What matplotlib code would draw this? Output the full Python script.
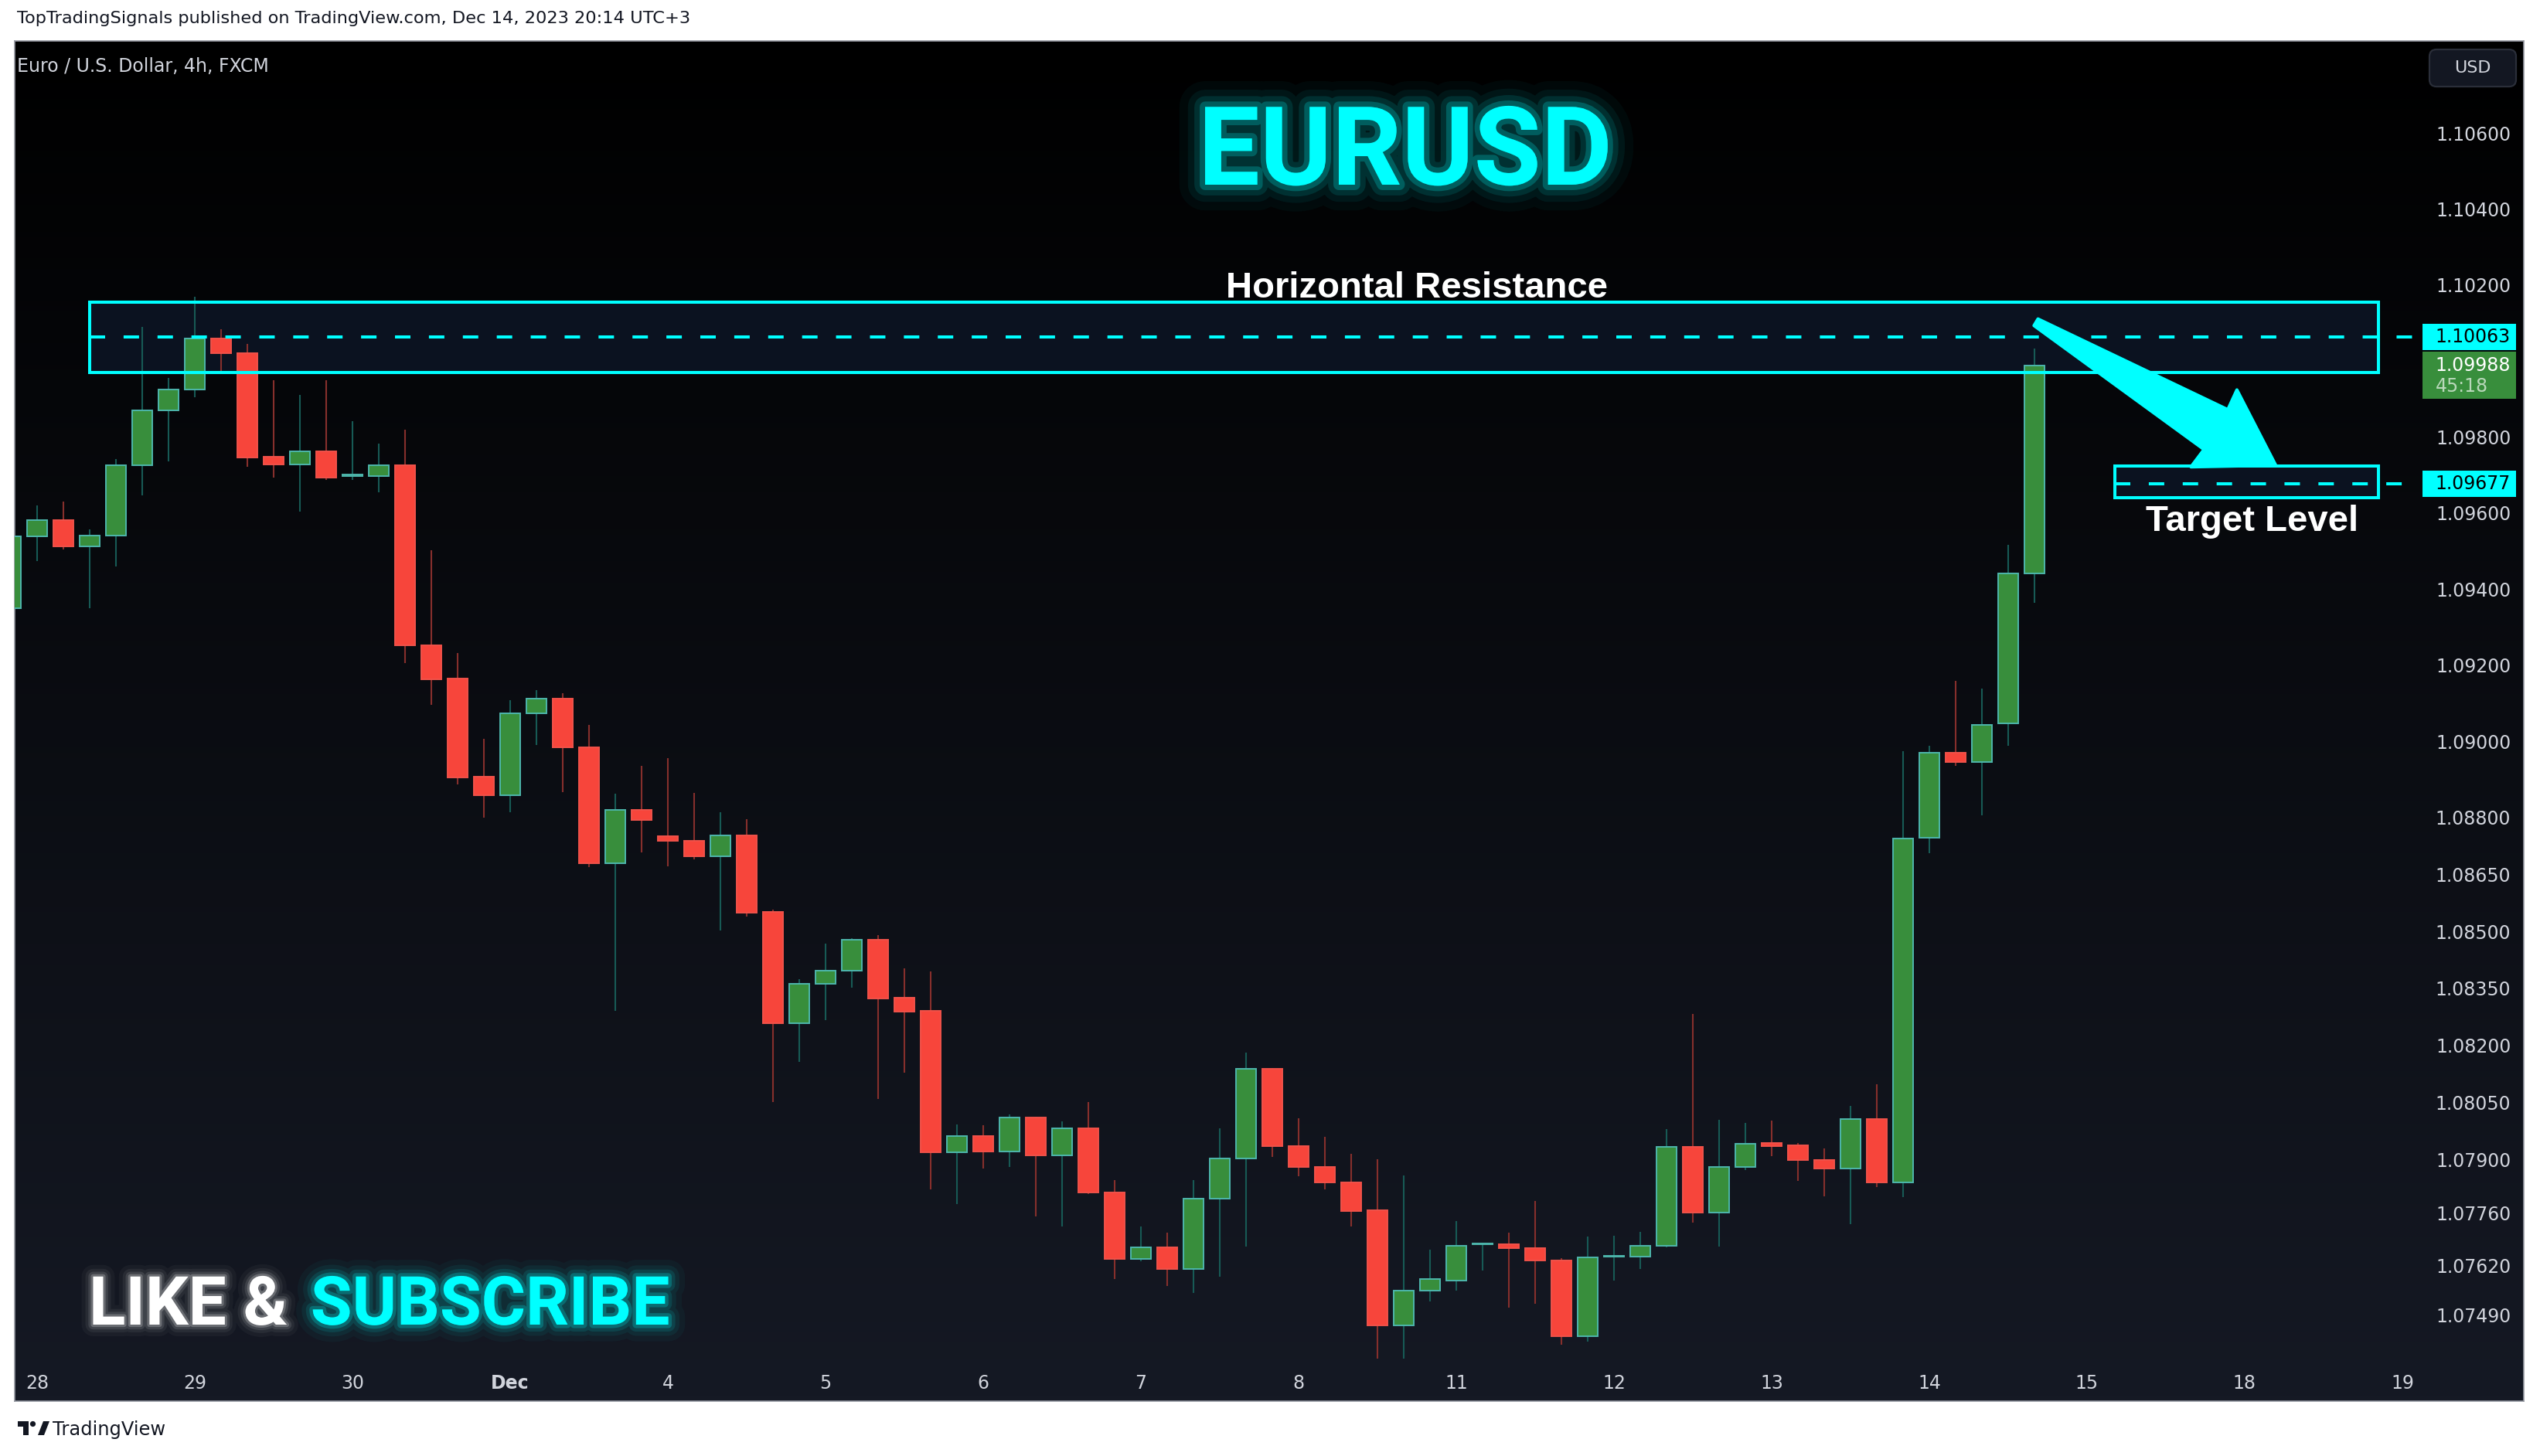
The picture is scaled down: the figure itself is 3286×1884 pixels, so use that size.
import matplotlib
matplotlib.use("Agg")
import matplotlib.pyplot as plt
import numpy as np
from matplotlib import font_manager
from matplotlib import patheffects as pe
from matplotlib.colors import LinearSegmentedColormap
from matplotlib.patches import Rectangle, Polygon, FancyBboxPatch, Circle
from matplotlib.transforms import blended_transform_factory, IdentityTransform

plt.rcParams['lines.scale_dashes'] = False

# EURUSD 4h (FXCM), one candle per 4 hours, first one is Nov 27 20:00 and is cut by the edge
opens = [1.09350, 1.09538, 1.09581, 1.09513, 1.09540, 1.09725, 1.09871, 1.09926, 1.10060, 1.10020,
         1.09748, 1.09728, 1.09762, 1.09698, 1.09698, 1.09725, 1.09253, 1.09164, 1.08906, 1.08857,
         1.09074, 1.09111, 1.08983, 1.08679, 1.08820, 1.08751, 1.08737, 1.08698, 1.08753, 1.08550,
         1.08259, 1.08362, 1.08397, 1.08478, 1.08325, 1.08290, 1.07918, 1.07961, 1.07921, 1.08010,
         1.07911, 1.07982, 1.07813, 1.07638, 1.07668, 1.07611, 1.07797, 1.07902, 1.08138, 1.07935,
         1.07880, 1.07840, 1.07766, 1.07463, 1.07555, 1.07582, 1.07677, 1.07677, 1.07667, 1.07633,
         1.07435, 1.07644, 1.07645, 1.07672, 1.07932, 1.07761, 1.07881, 1.07942, 1.07936, 1.07899,
         1.07875, 1.08006, 1.07840, 1.08746, 1.08970, 1.08946, 1.09047, 1.09442]
highs = [1.09560, 1.09621, 1.09631, 1.09557, 1.09742, 1.10089, 1.09955, 1.10170, 1.10083, 1.10045,
         1.09949, 1.09911, 1.09949, 1.09841, 1.09782, 1.09819, 1.09502, 1.09232, 1.09006, 1.09108,
         1.09134, 1.09126, 1.09043, 1.08862, 1.08935, 1.08955, 1.08863, 1.08814, 1.08794, 1.08556,
         1.08373, 1.08467, 1.08481, 1.08490, 1.08402, 1.08394, 1.07991, 1.07989, 1.08019, 1.08012,
         1.07999, 1.08050, 1.07845, 1.07723, 1.07708, 1.07846, 1.07981, 1.08181, 1.08140, 1.08009,
         1.07959, 1.07914, 1.07900, 1.07858, 1.07663, 1.07738, 1.07681, 1.07708, 1.07790, 1.07640,
         1.07697, 1.07699, 1.07709, 1.07979, 1.08282, 1.08005, 1.07995, 1.08002, 1.07942, 1.07928,
         1.08040, 1.08097, 1.08974, 1.08987, 1.09158, 1.09138, 1.09516, 1.10033]
lows = [1.09309, 1.09474, 1.09505, 1.09350, 1.09459, 1.09647, 1.09736, 1.09904, 1.09968, 1.09721,
        1.09694, 1.09604, 1.09688, 1.09688, 1.09655, 1.09206, 1.09096, 1.08887, 1.08798, 1.08814,
        1.08989, 1.08866, 1.08669, 1.08290, 1.08708, 1.08671, 1.08690, 1.08502, 1.08539, 1.08050,
        1.08156, 1.08267, 1.08352, 1.08058, 1.08128, 1.07821, 1.07782, 1.07876, 1.07880, 1.07749,
        1.07723, 1.07809, 1.07585, 1.07631, 1.07566, 1.07548, 1.07591, 1.07670, 1.07906, 1.07856,
        1.07822, 1.07723, 1.07375, 1.07375, 1.07526, 1.07555, 1.07607, 1.07510, 1.07521, 1.07412,
        1.07421, 1.07581, 1.07612, 1.07668, 1.07734, 1.07671, 1.07871, 1.07909, 1.07844, 1.07802,
        1.07730, 1.07828, 1.07801, 1.08706, 1.08936, 1.08804, 1.08987, 1.09364]
closes = [1.09538, 1.09581, 1.09513, 1.09540, 1.09725, 1.09871, 1.09926, 1.10060, 1.10020, 1.09746,
          1.09728, 1.09762, 1.09694, 1.09702, 1.09725, 1.09253, 1.09163, 1.08905, 1.08857, 1.09074,
          1.09111, 1.08983, 1.08679, 1.08820, 1.08793, 1.08737, 1.08698, 1.08753, 1.08549, 1.08259,
          1.08362, 1.08397, 1.08478, 1.08323, 1.08289, 1.07918, 1.07961, 1.07921, 1.08010, 1.07911,
          1.07982, 1.07813, 1.07638, 1.07668, 1.07611, 1.07797, 1.07903, 1.08138, 1.07935, 1.07880,
          1.07839, 1.07765, 1.07463, 1.07555, 1.07585, 1.07673, 1.07679, 1.07667, 1.07633, 1.07435,
          1.07643, 1.07647, 1.07672, 1.07932, 1.07761, 1.07881, 1.07941, 1.07935, 1.07899, 1.07875,
          1.08006, 1.07840, 1.08745, 1.08970, 1.08946, 1.09043, 1.09442, 1.09988]

day_labels = ['28', '29', '30', 'Dec', '4', '5', '6', '7', '8', '11', '12', '13', '14', '15', '18', '19']
price_ticks = [1.10600, 1.10400, 1.10200, 1.09800, 1.09600, 1.09400, 1.09200, 1.09000, 1.08800,
               1.08650, 1.08500, 1.08350, 1.08200, 1.08050, 1.07900, 1.07760, 1.07620, 1.07490]

resistance_zone = (1.09970, 1.10155)
resistance_level = 1.10063
target_zone = (1.09640, 1.09723)
target_level = 1.09677
last_price = 1.09988
countdown = '45:18'

# drawing anchors (candle index units)
res_start, target_start, zone_end, scale_edge = 2, 79.07, 89.1, 90.55
res_label_x = 52.5
arrow_tail = (76.06, 1.10102)
arrow_tip = (85.18, 1.09726)

CYAN = '#00ffff'
UP, UP_EDGE, UP_WICK = '#388e3c', '#4db6ac', '#175a55'
DN, DN_EDGE, DN_WICK = '#f7453b', '#f0524a', '#862f2c'

names = {f.name for f in font_manager.fontManager.ttflist}
narrow = 'Liberation Sans Narrow' if 'Liberation Sans Narrow' in names else 'Roboto'
sans_bold = 'Liberation Sans' if 'Liberation Sans' in names else 'DejaVu Sans'

W, H = 3286, 1884
fig = plt.figure(figsize=(W / 200, H / 200), dpi=200)
fig.patch.set_facecolor('white')
ax = fig.add_axes([19 / W, (H - 1813) / H, 3246 / W, 1760 / H])

bg = LinearSegmentedColormap.from_list('bg', ['#000000', '#151924'])
ax.imshow(np.linspace(0, 1, 256).reshape(-1, 1), cmap=bg, extent=[0, 1, 0, 1],
          transform=ax.transAxes, aspect='auto', origin='upper', zorder=0)

o = np.array(opens)
hi = np.array(highs)
lo = np.array(lows)
c = np.array(closes)
x = np.arange(len(o)) - 1
up = c >= o
body_lo = np.minimum(o, c)
body_h = np.maximum(np.abs(c - o), 0.00002)

# zones (fill under the candles)
ax.add_patch(Rectangle((res_start, resistance_zone[0]), zone_end - res_start,
                       resistance_zone[1] - resistance_zone[0], facecolor='#0b1220', edgecolor='none', zorder=1))
ax.add_patch(Rectangle((target_start, target_zone[0]), zone_end - target_start,
                       target_zone[1] - target_zone[0], facecolor='#0b1220', edgecolor='none', zorder=1))

ax.vlines(x[up], lo[up], hi[up], color=UP_WICK, lw=0.75, zorder=3)
ax.vlines(x[~up], lo[~up], hi[~up], color=DN_WICK, lw=0.75, zorder=3)
ax.bar(x[up], body_h[up], bottom=body_lo[up], width=0.76, color=UP, edgecolor=UP_EDGE, linewidth=0.7, zorder=4)
ax.bar(x[~up], body_h[~up], bottom=body_lo[~up], width=0.76, color=DN, edgecolor=DN_EDGE, linewidth=0.7, zorder=4)

# zone borders and levels
for start, (z0, z1) in [(res_start, resistance_zone), (target_start, target_zone)]:
    ax.add_patch(Rectangle((start, z0), zone_end - start, z1 - z0, facecolor='none',
                           edgecolor=CYAN, lw=1.45, zorder=6))
for start, lvl in [(res_start, resistance_level), (target_start, target_level)]:
    ax.plot([start, scale_edge], [lvl, lvl], color=CYAN, lw=1.45, ls=(0, (7.2, 8.6)), zorder=6)

ax.set_xlim(-0.853, 94.62)
ax.set_ylim(1.07264, 1.10842)

# axes and ticks
ax.set_xticks(np.arange(len(day_labels)) * 6, day_labels)
ax.tick_params(axis='x', length=0, pad=-12.5, labelsize=8.5, labelcolor='#d1d4dc')
ax.get_xticklabels()[3].set_fontweight('bold')
ax.yaxis.tick_right()
ax.set_yticks(price_ticks, [f'{v:.5f}' for v in price_ticks])
ax.tick_params(axis='y', length=0, pad=-6, labelsize=8.5, labelcolor='#d1d4dc')
for lab in ax.get_yticklabels():
    lab.set_horizontalalignment('right')
for sp in ax.spines.values():
    sp.set_color('#9598a1')
    sp.set_linewidth(0.6)

# price scale tags
trans = blended_transform_factory(ax.transAxes, ax.transData)
tag_l, tag_r, lab_r = 0.9596, 0.9969, 0.99476
tag_h = 0.00068
for lvl in [resistance_level, target_level]:
    ax.add_patch(Rectangle((tag_l, lvl - tag_h / 2), tag_r - tag_l, tag_h, transform=trans,
                           facecolor=CYAN, edgecolor='none', zorder=7, clip_on=False))
    ax.text(lab_r, lvl, f'{lvl:.5f}', transform=trans, ha='right', va='center',
            fontsize=8.5, color='#000000', zorder=8)
ax.add_patch(Rectangle((tag_l, last_price - 0.00088), tag_r - tag_l, 0.00124, transform=trans,
                       facecolor=UP, edgecolor='none', zorder=7, clip_on=False))
ax.text(lab_r, last_price, f'{last_price:.5f}', transform=trans, ha='right', va='center',
        fontsize=8.5, color='#ffffff', zorder=8)
ax.text(0.9649, last_price - 0.00054, countdown, transform=trans, ha='left', va='center',
        fontsize=8.5, color='#b9d8ba', zorder=8)

# arrow, built in pixels from two data points
p0 = ax.transData.transform(arrow_tail)
p1 = ax.transData.transform(arrow_tip)
d = (p1 - p0) / np.hypot(*(p1 - p0))
n = np.array([-d[1], d[0]])
pts = [p0 + n * 5, p1 - d * 90 + n * 30, p1 - d * 93 + n * 58, p1,
       p1 - d * 93 - n * 58, p1 - d * 90 - n * 30, p0 - n * 5]
ax.add_patch(Polygon(pts, closed=True, transform=IdentityTransform(), facecolor=CYAN,
                     edgecolor=CYAN, lw=1.5, joinstyle='round', zorder=9))

# labels
ax.annotate('Horizontal Resistance', (res_label_x, resistance_zone[1]), xytext=(0, 2.2),
            textcoords='offset points', ha='center', va='baseline', fontsize=17,
            fontweight='bold', family=sans_bold, color='white', zorder=8)
ax.annotate('Target Level', ((target_start + zone_end) / 2 + 0.2, target_zone[0]), xytext=(0, -15.4),
            textcoords='offset points', ha='center', va='baseline', fontsize=17,
            fontweight='bold', family=sans_bold, color='white', zorder=8)

ax.text(0.001, 0.98125, 'Euro / U.S. Dollar, 4h, FXCM', transform=ax.transAxes, va='center',
        fontsize=8.5, color='#d1d4dc')


def glow(col, scale=1.0):
    return [pe.Stroke(linewidth=w * scale, foreground=col, alpha=a, joinstyle='round')
            for w, a in [(24, 0.035), (16, 0.06), (10, 0.11), (5, 0.22)]] + [pe.Normal()]


fig.text(1818 / W, (H - 239) / H, 'EURUSD', ha='center', va='baseline', fontsize=51,
         fontweight='bold', family=narrow, color=CYAN, path_effects=glow(CYAN))

t1 = fig.text(115 / W, (H - 1714) / H, 'LIKE &', ha='left', va='baseline', fontsize=31.5,
              fontweight='bold', family=narrow, color='white', path_effects=glow('white', 0.45))
fig.canvas.draw()
bb = t1.get_window_extent()
fig.text((bb.x1 + 30) / W, (H - 1714) / H, 'SUBSCRIBE', ha='left', va='baseline', fontsize=31.5,
         fontweight='bold', family=narrow, color=CYAN, path_effects=glow(CYAN, 0.65))

# USD button
fig.add_artist(FancyBboxPatch((3143, H - 112), 112, 48, boxstyle='round,pad=0,rounding_size=9',
                              transform=IdentityTransform(), facecolor='#131722', edgecolor='#2a2e39', lw=0.8))
fig.text(3199 / W, (H - 88) / H, 'USD', ha='center', va='center', fontsize=8, color='#d1d4dc')

# header and footer
fig.text(22 / W, (H - 30) / H, 'TopTradingSignals published on TradingView.com, Dec 14, 2023 20:14 UTC+3',
         va='baseline', fontsize=8.1, color='#131722')
fig.add_artist(Polygon([(23, H - 1839), (37, H - 1839), (37, H - 1857), (30, H - 1857), (30, H - 1846),
                        (23, H - 1846)], closed=True, transform=IdentityTransform(), facecolor='#131722'))
fig.add_artist(Circle((42.5, H - 1842.5), 3.6, transform=IdentityTransform(), facecolor='#131722'))
fig.add_artist(Polygon([(49, H - 1857), (57, H - 1857), (64, H - 1839), (56, H - 1839)], closed=True,
                       transform=IdentityTransform(), facecolor='#131722'))
fig.text(68 / W, (H - 1857) / H, 'TradingView', va='baseline', fontsize=8.7, color='#131722')

fig.savefig('out.png', dpi=200, facecolor=fig.get_facecolor())
